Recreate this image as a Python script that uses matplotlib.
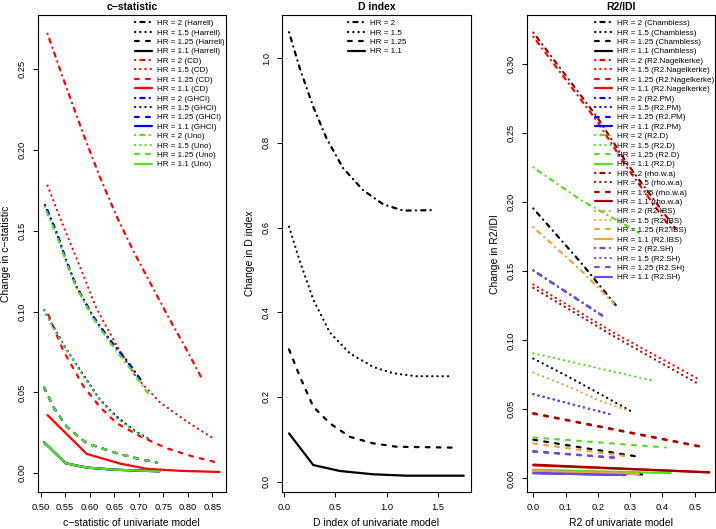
import matplotlib.pyplot as plt
from matplotlib.ticker import FormatStrFormatter

plt.rcParams['font.family'] = ['Liberation Sans', 'DejaVu Sans']

hr_names = ['2', '1.5', '1.25', '1.1']

# c-statistic panel: one row per HR (2, 1.5, 1.25, 1.1)
harrell_x = [[0.509, 0.533, 0.553, 0.573, 0.607, 0.641, 0.675, 0.709],
             [0.507, 0.526, 0.553, 0.587, 0.621, 0.655, 0.689, 0.721],
             [0.507, 0.526, 0.553, 0.594, 0.655, 0.695, 0.737],
             [0.507, 0.551, 0.594, 0.650, 0.742]]
harrell_y = [[0.166, 0.1486, 0.131, 0.1155, 0.097, 0.0825, 0.070, 0.0557],
             [0.101, 0.0907, 0.0763, 0.0608, 0.0454, 0.035, 0.0268, 0.021],
             [0.053, 0.041, 0.0288, 0.0186, 0.0124, 0.0093, 0.0066],
             [0.0192, 0.0062, 0.0035, 0.0022, 0.0012]]
cd_x = [[0.514, 0.55, 0.587, 0.62, 0.655, 0.69, 0.725, 0.76, 0.795, 0.83],
        [0.514, 0.545, 0.58, 0.614, 0.655, 0.696, 0.743, 0.798, 0.850],
        [0.516, 0.546, 0.587, 0.621, 0.655, 0.702, 0.757, 0.811, 0.862],
        [0.514, 0.594, 0.662, 0.716, 0.784, 0.865]]
cd_y = [[0.272, 0.241, 0.210, 0.184, 0.159, 0.137, 0.117, 0.097, 0.078, 0.058],
        [0.178, 0.154, 0.128, 0.102, 0.079, 0.059, 0.044, 0.032, 0.022],
        [0.098, 0.076, 0.054, 0.041, 0.031, 0.023, 0.0155, 0.0103, 0.0065],
        [0.036, 0.012, 0.006, 0.0028, 0.0015, 0.0008]]
ghci_x = [[0.509, 0.533, 0.553, 0.573, 0.607, 0.641, 0.675, 0.709],
          [0.507, 0.526, 0.553, 0.587, 0.621, 0.655, 0.689, 0.721],
          [0.507, 0.526, 0.553, 0.594, 0.655, 0.695, 0.737],
          [0.507, 0.551, 0.594, 0.650, 0.742]]
ghci_y = [[0.166, 0.1486, 0.131, 0.1155, 0.097, 0.0825, 0.070, 0.0557],
          [0.101, 0.0907, 0.0763, 0.0608, 0.0454, 0.035, 0.0268, 0.021],
          [0.053, 0.041, 0.0288, 0.0186, 0.0124, 0.0093, 0.0066],
          [0.0192, 0.0062, 0.0035, 0.0022, 0.0012]]
uno_x = [[0.508, 0.533, 0.553, 0.573, 0.607, 0.641, 0.68, 0.72],
         [0.507, 0.526, 0.553, 0.587, 0.621, 0.655, 0.69, 0.725],
         [0.507, 0.526, 0.553, 0.594, 0.655, 0.695, 0.737],
         [0.507, 0.551, 0.594, 0.650, 0.742]]
uno_y = [[0.165, 0.147, 0.130, 0.115, 0.096, 0.081, 0.066, 0.049],
         [0.101, 0.090, 0.076, 0.060, 0.045, 0.034, 0.026, 0.020],
         [0.053, 0.041, 0.0288, 0.0186, 0.0124, 0.0093, 0.0066],
         [0.0192, 0.0062, 0.0035, 0.0022, 0.0012]]

# D index panel
dindex_x = [[0.049, 0.155, 0.285, 0.415, 0.576, 0.771, 0.965, 1.159, 1.435],
            [0.049, 0.155, 0.285, 0.447, 0.641, 0.868, 1.062, 1.29, 1.636],
            [0.049, 0.155, 0.285, 0.447, 0.641, 0.868, 1.095, 1.678],
            [0.049, 0.285, 0.544, 0.868, 1.192, 1.75]]
dindex_y = [[1.061, 0.975, 0.885, 0.810, 0.740, 0.688, 0.655, 0.640, 0.641],
            [0.602, 0.520, 0.430, 0.352, 0.303, 0.271, 0.256, 0.249, 0.249],
            [0.3125, 0.248, 0.177, 0.1377, 0.106, 0.0906, 0.0826, 0.0803],
            [0.114, 0.0394, 0.0253, 0.0175, 0.0142, 0.0142]]

# R2/IDI panel
chambless_x = [[0, 0.145, 0.262], [0, 0.104, 0.208, 0.306], [0, 0.327], [0, 0.337]]
chambless_y = [[0.1955, 0.157, 0.1236], [0.0868, 0.0742, 0.0610, 0.0482],
               [0.028, 0.0156], [0.0058, 0.0029]]
nagel_x = [[0, 0.197, 0.291, 0.43], [0, 0.249, 0.509], [0, 0.519], [0, 0.545]]
nagel_y = [[0.320, 0.259, 0.225, 0.180], [0.1405, 0.1056, 0.0723],
           [0.0468, 0.0228], [0.0094, 0.0044]]
pm_x = [[0, 0.213], [0, 0.249], [0, 0.265], [0, 0.285]]
pm_y = [[0.1506, 0.118], [0.061, 0.0458], [0.0195, 0.0147], [0.0038, 0.0024]]
r2d_x = [[0, 0.145, 0.327], [0, 0.374], [0, 0.41], [0, 0.426]]
r2d_y = [[0.2253, 0.202, 0.178], [0.0906, 0.0706], [0.0296, 0.0224], [0.0062, 0.0038]]
rho_x = [[0, 0.197, 0.291, 0.44], [0, 0.249, 0.504], [0, 0.519], [0, 0.545]]
rho_y = [[0.323, 0.262, 0.228, 0.181], [0.138, 0.103, 0.0694],
         [0.0472, 0.0231], [0.0099, 0.0043]]
ibs_x = [[0, 0.145, 0.249], [0, 0.104, 0.208, 0.291], [0, 0.301], [0, 0.327]]
ibs_y = [[0.182, 0.1513, 0.127], [0.0766, 0.067, 0.0561, 0.0494],
         [0.0253, 0.0156], [0.0055, 0.0031]]
sh_x = [[0, 0.213], [0, 0.249], [0, 0.265], [0, 0.285]]
sh_y = [[0.1506, 0.118], [0.061, 0.0458], [0.0195, 0.0147], [0.0038, 0.0024]]

# R-like line types: dotdash, dotted, dashed, solid
ltys = [(0, (0.1, 2.3, 1.9, 2.3)), (0, (0.1, 2.25)), (0, (1.7, 3.25)), '-']
lw = 1.6

fig = plt.figure(figsize=(7.16, 5.29), dpi=100)
ax1 = fig.add_axes([0.05265, 0.06994, 0.2630, 0.9011])
ax2 = fig.add_axes([0.39427, 0.06994, 0.2630, 0.9011])
ax3 = fig.add_axes([0.73561, 0.06994, 0.2630, 0.9011])


def draw(ax, xs, ys, color, tag):
    for i in range(4):
        lab = 'HR = ' + hr_names[i] + tag
        ax.plot(xs[i], ys[i], color=color, lw=lw, linestyle=ltys[i], label=lab,
                dash_capstyle='round', solid_capstyle='round', solid_joinstyle='round')


# panel 1
draw(ax1, harrell_x, harrell_y, 'black', ' (Harrell)')
draw(ax1, cd_x, cd_y, '#FF0000', ' (CD)')
draw(ax1, ghci_x, ghci_y, '#0000FF', ' (GHCI)')
draw(ax1, uno_x, uno_y, '#55DD22', ' (Uno)')
ax1.set_xlim(0.494, 0.878)
ax1.set_ylim(-0.0116, 0.2834)
ax1.set_xticks([0.50, 0.55, 0.60, 0.65, 0.70, 0.75, 0.80, 0.85])
ax1.set_yticks([0.00, 0.05, 0.10, 0.15, 0.20, 0.25])
ax1.xaxis.set_major_formatter(FormatStrFormatter('%.2f'))
ax1.yaxis.set_major_formatter(FormatStrFormatter('%.2f'))
ax1.set_title('c\u2212statistic', fontsize=7.5, fontweight='bold', pad=4)
ax1.set_xlabel('c\u2212statistic of univariate model', fontsize=7.5)
ax1.set_ylabel('Change in c\u2212statistic', fontsize=7.5, labelpad=5)

# panel 2
draw(ax2, dindex_x, dindex_y, 'black', '')
ax2.set_xlim(-0.0165, 1.817)
ax2.set_ylim(-0.0243, 1.101)
ax2.set_xticks([0.0, 0.5, 1.0, 1.5])
ax2.set_yticks([0.0, 0.2, 0.4, 0.6, 0.8, 1.0])
ax2.xaxis.set_major_formatter(FormatStrFormatter('%.1f'))
ax2.yaxis.set_major_formatter(FormatStrFormatter('%.1f'))
ax2.set_title('D index', fontsize=7.5, fontweight='bold', pad=4)
ax2.set_xlabel('D index of univariate model', fontsize=7.5)
ax2.set_ylabel('Change in D index', fontsize=7.5, labelpad=5)

# panel 3
draw(ax3, chambless_x, chambless_y, 'black', ' (Chambless)')
draw(ax3, nagel_x, nagel_y, '#FF0000', ' (R2.Nagelkerke)')
draw(ax3, pm_x, pm_y, '#0000FF', ' (R2.PM)')
draw(ax3, r2d_x, r2d_y, '#55DD22', ' (R2.D)')
draw(ax3, rho_x, rho_y, '#A00000', ' (rho.w.a)')
draw(ax3, ibs_x, ibs_y, '#F4A040', ' (R2.IBS)')
draw(ax3, sh_x, sh_y, '#7048E8', ' (R2.SH)')
ax3.set_xlim(-0.0206, 0.563)
ax3.set_ylim(-0.0099, 0.3355)
ax3.set_xticks([0.0, 0.1, 0.2, 0.3, 0.4, 0.5])
ax3.set_yticks([0.00, 0.05, 0.10, 0.15, 0.20, 0.25, 0.30])
ax3.xaxis.set_major_formatter(FormatStrFormatter('%.1f'))
ax3.yaxis.set_major_formatter(FormatStrFormatter('%.2f'))
ax3.set_title('R2/IDI', fontsize=7.5, fontweight='bold', pad=4)
ax3.set_xlabel('R2 of univariate model', fontsize=7.5)
ax3.set_ylabel('Change in R2/IDI', fontsize=7.5, labelpad=5)

for ax, fx in [(ax1, 0.517), (ax2, 0.350), (ax3, 0.363)]:
    ax.tick_params(length=3.6, width=0.7, labelsize=6.7, pad=4.5)
    for lab in ax.get_yticklabels():
        lab.set_rotation(90)
        lab.set_va('center')
    for s in ax.spines.values():
        s.set_linewidth(0.8)
    ax.legend(loc='upper left', bbox_to_anchor=(fx, 0.991), frameon=False,
              fontsize=5.8, borderpad=0, borderaxespad=0, labelspacing=0.22,
              handlelength=2.1, handletextpad=0.6)

fig.savefig('out.png', dpi=100)
